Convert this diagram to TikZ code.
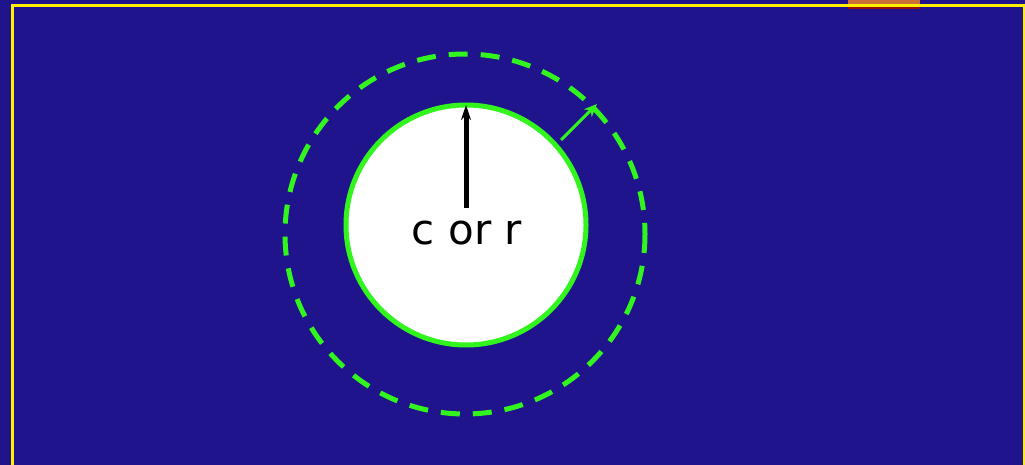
\documentclass[tikz,border=0pt]{standalone}
\usepackage{fontspec}
\setmainfont{DejaVu Sans}
\usetikzlibrary{arrows.meta}
\definecolor{bg}{RGB}{31,20,140}
\definecolor{grn}{RGB}{50,245,30}
\definecolor{ylw}{RGB}{255,240,0}
\definecolor{org}{RGB}{205,110,50}
\definecolor{drd}{RGB}{150,10,10}
\tikzset{
  ringline/.style={draw=grn, line width=5pt},
  dashring/.style={draw=grn, line width=5pt, dash pattern=on 19pt off 13pt},
}
\begin{document}
\begin{tikzpicture}[x=1pt,y=-1pt]
\path[fill=bg] (0,0) rectangle (1025,465);
\useasboundingbox (0,0) rectangle (1025,465);
\fill[org] (848,0) rectangle (920,5);
\draw[drd, line width=2.5pt] (848,7.5) -- (920,7.5);
\draw[ylw, line width=3pt] (12,470) -- (12,5.5) -- (1024,5.5) -- (1024,470);
\draw[dashring] (465,234) circle[radius=180];
\node[ringline, circle, fill=white, minimum size=240pt, inner sep=0pt] (inner) at (466,225) {};
\node[font=\fontsize{42}{48}\selectfont, inner sep=0pt] (lbl) at (467,233) {c or r};
\coordinate (tip) at (466,105);
\coordinate (base) at (466,208);
\draw[line width=5pt, -{Stealth[length=15pt,width=10pt]}] (base) -- (tip);
\coordinate (ga) at (561,140);
\coordinate (gb) at (597,104);
\draw[grn, line width=3pt, -{Stealth[length=13pt,width=11pt]}] (ga) -- (gb);
\end{tikzpicture}
\end{document}
